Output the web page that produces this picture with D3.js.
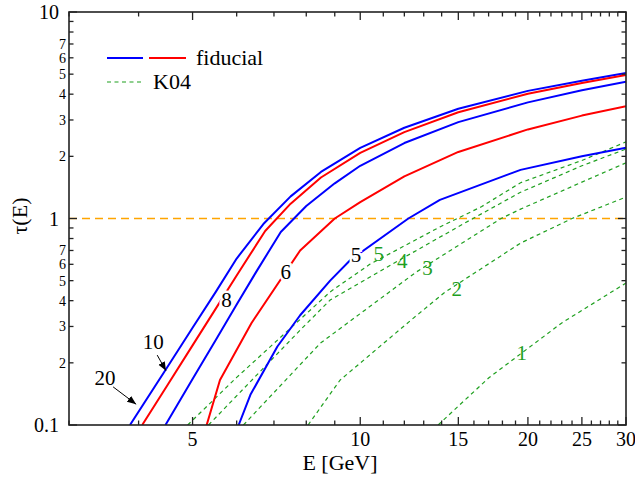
<!DOCTYPE html>
<html>
<head>
<meta charset="utf-8">
<script src="https://cdn.jsdelivr.net/npm/d3@7"></script>
<style>
  body { margin: 0; background: #fff; }
</style>
</head>
<body>
<div id="chart"></div>
<script>
// ---------- data ----------
// fiducial model (blue / red alternating), label = curve label
const fidLabels = ["20", "10", "8", "6", "5"];
const fidColors = ["#0000ff", "#ff0000", "#0000ff", "#ff0000", "#0000ff"];
const fidE = [
  [3.86, 4.5, 5, 5.5, 6, 6.7, 7.5, 8.5, 10, 12, 15, 20, 25, 30],
  [4.06, 4.5, 5, 5.5, 6, 6.75, 7.5, 8.5, 10, 12, 15, 20, 25, 30],
  [4.47, 5, 5.5, 6, 6.5, 7.2, 8, 9, 10, 12, 15, 20, 25, 30],
  [5.3, 5.6, 6.38, 7.8, 9.0, 10, 12, 15, 20, 25, 30],
  [6.05, 6.35, 7.1, 7.8, 8.83, 9.6, 12.2, 13.9, 19.4, 25, 30]
];
const fidTau = [
  [0.1, 0.19, 0.296, 0.44, 0.64, 0.94, 1.28, 1.68, 2.2, 2.75, 3.4, 4.15, 4.65, 5.07],
  [0.1, 0.155, 0.243, 0.365, 0.53, 0.87, 1.18, 1.58, 2.08, 2.62, 3.27, 4.02, 4.53, 4.96],
  [0.1, 0.167, 0.257, 0.383, 0.55, 0.86, 1.15, 1.48, 1.8, 2.32, 2.93, 3.65, 4.18, 4.6],
  [0.1, 0.165, 0.312, 0.70, 1.0, 1.2, 1.6, 2.1, 2.7, 3.15, 3.5],
  [0.1, 0.14, 0.24, 0.34, 0.50, 0.63, 1.0, 1.23, 1.72, 2.0, 2.2]
];
// K04 model (green dashed)
const k04Labels = ["5", "4", "3", "2", "1"];
const k04E = [
  [4.9, 6, 7.43, 8.83, 10.4, 13.9, 16.5, 19.4, 25, 30],
  [5.34, 7.8, 8.83, 11.4, 15.4, 19.4, 25, 30],
  [6.17, 8.48, 12.6, 17.9, 19.4, 25, 30],
  [8.06, 9.2, 12.3, 14.2, 19.4, 24, 30],
  [13.8, 17, 23, 30]
];
const k04Tau = [
  [0.1, 0.17, 0.288, 0.441, 0.6, 0.91, 1.14, 1.49, 1.91, 2.35],
  [0.1, 0.288, 0.403, 0.6, 0.95, 1.34, 1.8, 2.17],
  [0.1, 0.249, 0.55, 1.0, 1.11, 1.5, 1.86],
  [0.1, 0.165, 0.32, 0.44, 0.76, 1.0, 1.27],
  [0.1, 0.169, 0.312, 0.487]
];
// label positions in data units [E, tau]
const fidLabelPos = [[3.48, 0.169], [4.25, 0.252], [5.75, 0.403], [7.35, 0.55], [9.83, 0.666]];
const k04LabelPos = [[10.8, 0.673], [11.9, 0.622], [13.2, 0.575], [14.9, 0.456], [19.5, 0.223]];
// arrows for 20 and 10: [from, to]
const arrows = [
  [[3.6, 0.153], [3.96, 0.126]],
  [[4.32, 0.218], [4.48, 0.183]]
];
const xTickLabels = [5, 10, 15, 20, 25, 30];
const yMajor = [0.1, 1, 10];
const ySmallLabels = [0.2, 0.3, 0.4, 0.5, 0.6, 0.7, 2, 3, 4, 5, 6, 7];
const threshold = 1;

// ---------- setup ----------
const width = 635, height = 482;
const margin = { top: 12, right: 9, bottom: 57, left: 69 };

const svg = d3.select("#chart").append("svg")
  .attr("width", width).attr("height", height);

const x = d3.scaleLog().domain([3, 30]).range([margin.left, width - margin.right]);
const y = d3.scaleLog().domain([0.1, 10]).range([height - margin.bottom, margin.top]);

const x0 = margin.left, x1 = width - margin.right;
const y0 = height - margin.bottom, y1 = margin.top;

const line = d3.line().x(d => x(d[0])).y(d => y(d[1]));
const zip = (a, b) => a.map((v, i) => [v, b[i]]);

svg.append("defs").append("clipPath").attr("id", "clip")
  .append("rect").attr("x", x0).attr("y", y1).attr("width", x1 - x0).attr("height", y0 - y1);

const plot = svg.append("g").attr("clip-path", "url(#clip)");

// threshold line
plot.append("line")
  .attr("x1", x0).attr("x2", x1)
  .attr("y1", y(threshold)).attr("y2", y(threshold))
  .attr("stroke", "#ffa500").attr("stroke-width", 1.5)
  .attr("stroke-dasharray", "8,5");

// K04 curves
k04E.forEach((es, i) => {
  plot.append("path")
    .attr("d", line(zip(es, k04Tau[i])))
    .attr("fill", "none").attr("stroke", "#1fa01f")
    .attr("stroke-width", 1.2).attr("stroke-dasharray", "4,3.5");
});

// fiducial curves
fidE.forEach((es, i) => {
  plot.append("path")
    .attr("d", line(zip(es, fidTau[i])))
    .attr("fill", "none").attr("stroke", fidColors[i])
    .attr("stroke-width", 2).attr("stroke-linejoin", "round");
});

// ---------- axes frame & ticks ----------
const xMinor = d3.range(3, 31).filter(v => !xTickLabels.includes(v));
const yMinor = [];
[0.1, 1].forEach(dec => { for (let k = 2; k <= 9; k++) yMinor.push(+(dec * k).toFixed(2)); });

const axes = svg.append("g").attr("stroke", "#222").attr("stroke-width", 1.3);
function tickX(v, len) {
  axes.append("line").attr("x1", x(v)).attr("x2", x(v)).attr("y1", y0).attr("y2", y0 - len);
  axes.append("line").attr("x1", x(v)).attr("x2", x(v)).attr("y1", y1).attr("y2", y1 + len);
}
function tickY(v, len) {
  axes.append("line").attr("y1", y(v)).attr("y2", y(v)).attr("x1", x0).attr("x2", x0 + len);
  axes.append("line").attr("y1", y(v)).attr("y2", y(v)).attr("x1", x1).attr("x2", x1 - len);
}
xTickLabels.forEach(v => tickX(v, 8));
xMinor.forEach(v => tickX(v, 4.5));
yMajor.forEach(v => tickY(v, 8));
yMinor.forEach(v => tickY(v, 4.5));

svg.append("rect")
  .attr("x", x0).attr("y", y1).attr("width", x1 - x0).attr("height", y0 - y1)
  .attr("fill", "none").attr("stroke", "#222").attr("stroke-width", 1.6);

// tick labels
svg.append("g").selectAll("text").data(xTickLabels).join("text")
  .attr("x", d => x(d)).attr("y", 446)
  .attr("text-anchor", "middle").attr("font-size", 20)
  .text(d => d);

svg.append("g").selectAll("text").data(yMajor).join("text")
  .attr("x", 59).attr("y", d => y(d)).attr("dy", "0.35em")
  .attr("text-anchor", "end").attr("font-size", 20)
  .text(d => d);

svg.append("g").selectAll("text").data(ySmallLabels).join("text")
  .attr("x", 66).attr("y", d => y(d)).attr("dy", "0.35em")
  .attr("text-anchor", "end").attr("font-size", 14)
  .text(d => d < 1 ? Math.round(d * 10) : d);

// axis titles
svg.append("text")
  .attr("x", 340).attr("y", 470)
  .attr("text-anchor", "middle").attr("font-size", 22)
  .text("E [GeV]");

svg.append("text")
  .attr("transform", "translate(27,216) rotate(-90)")
  .attr("text-anchor", "middle").attr("font-size", 22)
  .text("τ(E)");

// ---------- curve labels ----------
svg.append("g").selectAll("text").data(fidLabelPos).join("text")
  .attr("x", d => x(d[0])).attr("y", d => y(d[1])).attr("dy", "0.35em")
  .attr("text-anchor", "middle").attr("font-size", 21)
  .attr("stroke", "#fff").attr("stroke-width", 5).attr("paint-order", "stroke")
  .text((d, i) => fidLabels[i]);

svg.append("g").selectAll("text").data(k04LabelPos).join("text")
  .attr("x", d => x(d[0])).attr("y", d => y(d[1])).attr("dy", "0.35em")
  .attr("text-anchor", "middle").attr("font-size", 21)
  .attr("fill", "#1fa01f")
  .text((d, i) => k04Labels[i]);

svg.append("defs").append("marker")
  .attr("id", "arrow").attr("viewBox", "0 0 10 10")
  .attr("refX", 10).attr("refY", 5)
  .attr("markerWidth", 9).attr("markerHeight", 9)
  .attr("markerUnits", "userSpaceOnUse")
  .attr("orient", "auto")
  .append("path").attr("d", "M0,1 L10,5 L0,9 Z").attr("fill", "#000");

arrows.forEach(a => {
  svg.append("line")
    .attr("x1", x(a[0][0])).attr("y1", y(a[0][1]))
    .attr("x2", x(a[1][0])).attr("y2", y(a[1][1]))
    .attr("stroke", "#000").attr("stroke-width", 1)
    .attr("marker-end", "url(#arrow)");
});

// ---------- legend ----------
const lg = svg.append("g");
lg.append("line").attr("x1", 107).attr("x2", 143).attr("y1", 58).attr("y2", 58)
  .attr("stroke", "#0000ff").attr("stroke-width", 2);
lg.append("line").attr("x1", 149).attr("x2", 186).attr("y1", 58).attr("y2", 58)
  .attr("stroke", "#ff0000").attr("stroke-width", 2);
lg.append("text").attr("x", 196).attr("y", 65).attr("font-size", 22).text("fiducial");
lg.append("line").attr("x1", 107).attr("x2", 143).attr("y1", 82).attr("y2", 82)
  .attr("stroke", "#1fa01f").attr("stroke-width", 1.2).attr("stroke-dasharray", "4,3.5");
lg.append("text").attr("x", 153).attr("y", 89).attr("font-size", 22).text("K04");

// serif face on every text
svg.selectAll("text").style("font-family", "'Liberation Serif'");
</script>
</body>
</html>
